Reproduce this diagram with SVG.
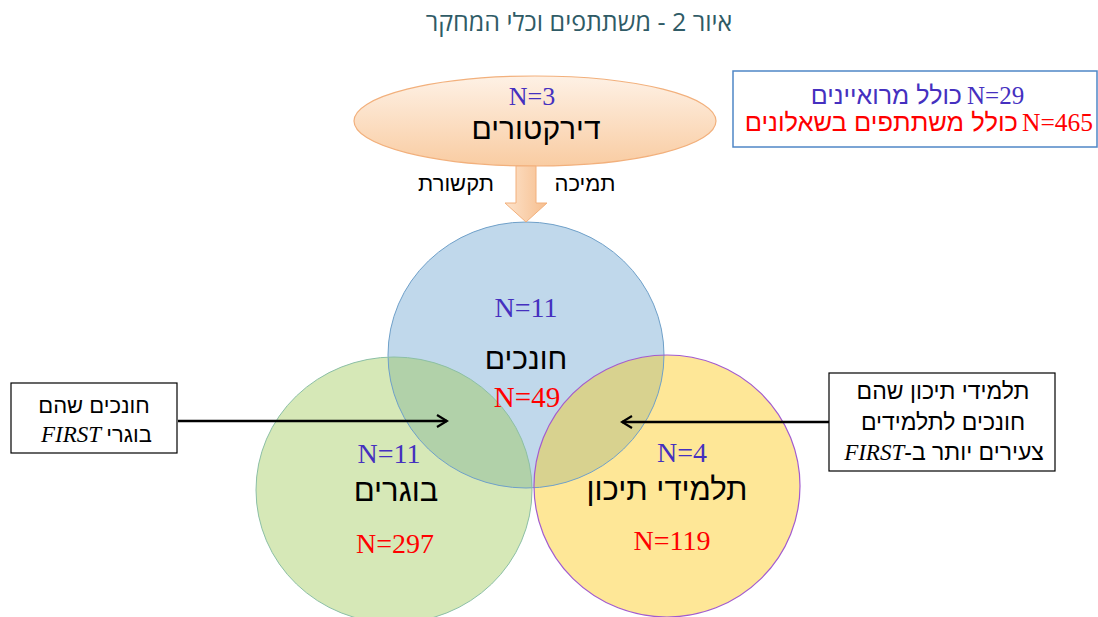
<svg xmlns="http://www.w3.org/2000/svg" width="1098" height="617" viewBox="0 0 1098 617">
<style>
.heb{font-family:"Liberation Sans","DejaVu Sans",sans-serif;fill:#000}
.num{font-family:"Liberation Serif","DejaVu Serif",serif}
.pur{fill:#4530bf}
.red{fill:#ff0000}
.it{font-family:"Liberation Serif",serif;font-style:italic}
.box{fill:#fff;stroke:#000;stroke-width:1.2}
.conn{stroke:#000;stroke-width:2.5;fill:none}
</style>
<defs>
<linearGradient id="gEll" x1="0" y1="0" x2="0" y2="1">
<stop offset="0" stop-color="#fef1e5"/>
<stop offset="1" stop-color="#f9cca2"/>
</linearGradient>
<linearGradient id="gArr" x1="0" y1="0" x2="1" y2="0">
<stop offset="0" stop-color="#fde3cb"/>
<stop offset="1" stop-color="#f6be8e"/>
</linearGradient>
<marker id="chev" viewBox="0 0 14 14" refX="12" refY="7" markerWidth="14" markerHeight="14" markerUnits="userSpaceOnUse" orient="auto">
<path d="M2,1 L12,7 L2,13" fill="none" stroke="#000" stroke-width="2.2"/>
</marker>
<clipPath id="cBlue"><ellipse cx="526" cy="355" rx="138" ry="133"/></clipPath>
</defs>

<text x="579" y="31" direction="rtl" text-anchor="middle" font-family="'Open Sans','Noto Sans',sans-serif" font-size="25" fill="#2f5b66">איור 2 - משתתפים וכלי המחקר</text>

<g id="legend">
<rect x="733" y="71" width="364" height="76" fill="#fff" stroke="#4f86c6" stroke-width="1.5"/>
<text class="heb" x="962" y="104" text-anchor="end" font-size="25" style="fill:#4530bf">כולל מרואיינים</text>
<text class="num pur" x="967" y="104" font-size="25">N=29</text>
<text class="heb" x="1018" y="131" text-anchor="end" font-size="25.5" style="fill:#ff0000">כולל משתתפים בשאלונים</text>
<text class="num red" x="1022" y="131" font-size="25.5">N=465</text>
</g>

<g id="circles">
<ellipse cx="526" cy="355" rx="138" ry="133" fill="#c0d8eb"/>
<ellipse cx="394" cy="490" rx="138" ry="133" fill="#d6e8b7"/>
<ellipse cx="667" cy="486" rx="133" ry="131" fill="#fee797"/>
<ellipse cx="394" cy="490" rx="138" ry="133" fill="#b1d1a9" clip-path="url(#cBlue)"/>
<ellipse cx="667" cy="486" rx="133" ry="131" fill="#d8d28f" clip-path="url(#cBlue)"/>
<ellipse cx="526" cy="355" rx="138" ry="133" fill="none" stroke="#6fa0c9" stroke-width="1"/>
<ellipse cx="394" cy="490" rx="138" ry="133" fill="none" stroke="#8cbfa6" stroke-width="1"/>
<ellipse cx="667" cy="486" rx="133" ry="131" fill="none" stroke="#a25bd0" stroke-width="1.2"/>
</g>

<g id="directors">
<ellipse cx="535" cy="121" rx="181" ry="45" fill="url(#gEll)" stroke="#f2b07c" stroke-width="1.2"/>
<text class="num pur" x="532" y="105" text-anchor="middle" font-size="26">N=3</text>
<text class="heb" x="536" y="139" text-anchor="middle" font-size="30">דירקטורים</text>
</g>

<g id="teachers">
<text class="num pur" x="526" y="317" text-anchor="middle" font-size="28">N=11</text>
<text class="heb" x="526" y="369" text-anchor="middle" font-size="30">חונכים</text>
<text class="num red" x="527" y="407" text-anchor="middle" font-size="29">N=49</text>
</g>

<g id="alumni">
<text class="num pur" x="389" y="463" text-anchor="middle" font-size="28">N=11</text>
<text class="heb" x="396" y="501" text-anchor="middle" font-size="31">בוגרים</text>
<text class="num red" x="395" y="553" text-anchor="middle" font-size="28">N=297</text>
</g>

<g id="students">
<text class="num pur" x="682" y="462" text-anchor="middle" font-size="28">N=4</text>
<text class="heb" x="667" y="500" text-anchor="middle" font-size="31">תלמידי תיכון</text>
<text class="num red" x="672" y="550" text-anchor="middle" font-size="28">N=119</text>
</g>

<g id="note-left">
<rect class="box" x="11" y="383" width="166" height="70"/>
<text class="heb" x="94" y="413" text-anchor="middle" font-size="22">חונכים שהם</text>
<text class="heb" x="152" y="442" text-anchor="end" font-size="22">בוגרי</text>
<text class="it" x="101" y="442" text-anchor="end" font-size="23">FIRST</text>
</g>

<g id="note-right">
<rect class="box" x="829" y="373" width="226" height="98"/>
<text class="heb" x="943" y="399" text-anchor="middle" font-size="23">תלמידי תיכון שהם</text>
<text class="heb" x="943" y="430" text-anchor="middle" font-size="23">חונכים לתלמידים</text>
<text class="heb" x="944" y="460" text-anchor="middle" font-size="23" direction="rtl">צעירים יותר ב-<tspan class="it" font-size="23">FIRST</tspan></text>
</g>

<g id="connectors">
<path d="M516,166 L536,166 L536,203 L547,203 L526,222 L505,203 L516,203 Z" fill="url(#gArr)" stroke="#f2b07c" stroke-width="1"/>
<text class="heb" x="456" y="191" text-anchor="middle" font-size="22">תקשורת</text>
<text class="heb" x="585" y="191" text-anchor="middle" font-size="22">תמיכה</text>
<line class="conn" x1="178" y1="421" x2="447" y2="421" marker-end="url(#chev)"/>
<line class="conn" x1="829" y1="422" x2="622" y2="422" marker-end="url(#chev)"/>
</g>
</svg>
